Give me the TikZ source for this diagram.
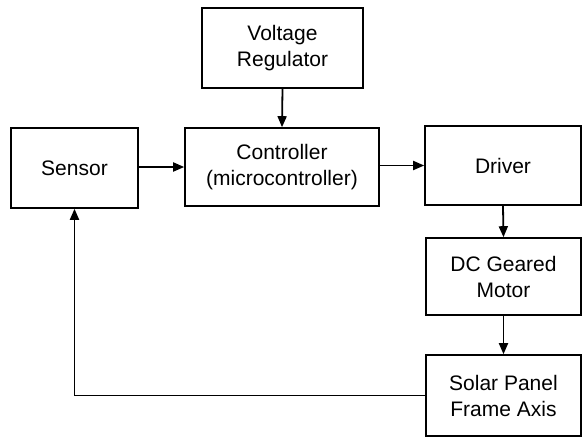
\documentclass[tikz,border=0pt]{standalone}
\usepackage{fontspec}
\setmainfont{Liberation Sans}
\usetikzlibrary{arrows.meta}
\begin{document}
\begin{tikzpicture}[x=1pt,y=1pt,
  blockbox/.style={draw=black, line width=1.6pt, inner sep=0pt, align=center,
    font=\fontsize{21}{26}\selectfont},
  conn/.style={line width=1.8pt, -{Triangle[length=11pt,width=9pt]}}]
\useasboundingbox (0,0) rectangle (582,-437);
\node[blockbox, minimum width=161pt, minimum height=80pt] (vr) at (282.5,-48) {Voltage\\Regulator};
\node[blockbox, minimum width=127pt, minimum height=80pt] (sensor) at (74.5,-168) {Sensor};
\node[blockbox, minimum width=194pt, minimum height=78pt] (ctrl) at (282,-167) {Controller\\(microcontroller)};
\node[blockbox, minimum width=156pt, minimum height=79pt] (driver) at (503,-165.5) {Driver};
\node[blockbox, minimum width=155pt, minimum height=77pt] (motor) at (503.5,-276.5) {DC Geared\\Motor};
\node[blockbox, minimum width=155pt, minimum height=81pt] (solar) at (503.5,-395.5) {Solar Panel\\Frame Axis};
\draw[conn] (vr.south) -- (ctrl.north);
\draw[conn] (sensor.east |- ctrl.center) -- (ctrl.west);
\draw[conn] (ctrl.east |- driver.center) -- (driver.west);
\draw[conn] (driver.south) -- (motor.north);
\draw[conn] (motor.south) -- (solar.north);
\draw[conn] (solar.west) -| (sensor.south);
\end{tikzpicture}
\end{document}
